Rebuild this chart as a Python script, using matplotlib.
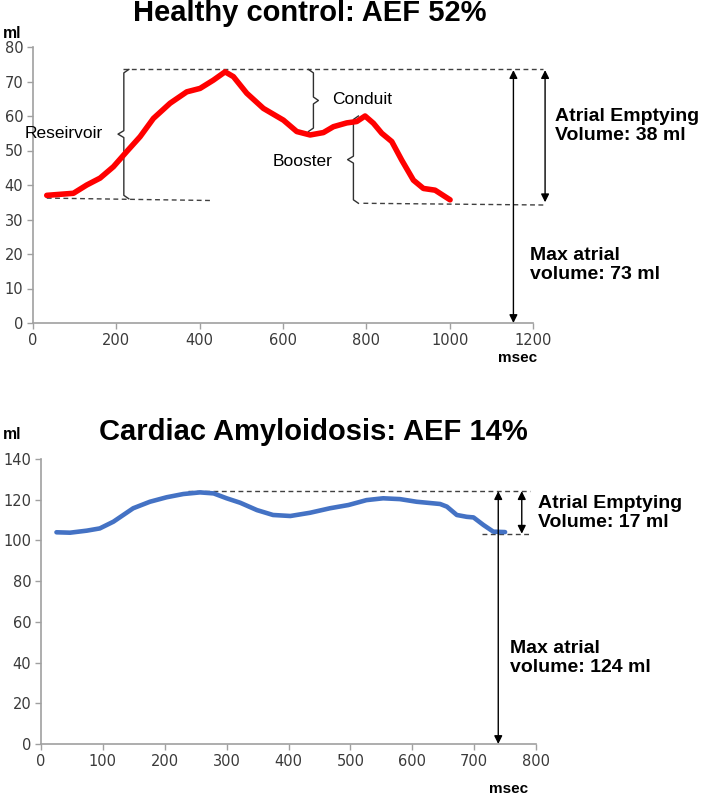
import matplotlib
matplotlib.use("Agg")
import matplotlib.pyplot as plt
import numpy as np

# ---------------- data ----------------
# Healthy control (red)
hc_time = [33, 97, 129, 161, 193, 225, 257, 289, 329, 369, 401, 433, 461, 481, 513,
           553, 601, 633, 665, 697, 721, 753, 777, 797, 817, 837, 861, 885, 913, 937,
           965, 1001]
hc_vol = [37, 37.6, 40, 42, 45.3, 49.7, 54, 59.3, 63.7, 67, 68, 70.4, 72.8, 71.4, 66.6,
          62.2, 58.8, 55.5, 54.5, 55.2, 56.9, 58, 58.4, 60, 57.9, 55, 52.6, 47.2, 41.4, 39,
          38.5, 35.7]
hc_xticks = [0, 200, 400, 600, 800, 1000, 1200]
hc_yticks = [0, 10, 20, 30, 40, 50, 60, 70, 80]

# Cardiac amyloidosis (blue)
ca_time = [25, 47, 74, 95, 117, 149, 176, 203, 230, 257, 279, 300, 322, 349, 375, 403,
           435, 467, 497, 526, 553, 580, 607, 645, 656, 672, 688, 699, 715, 731, 750]
ca_vol = [104, 103.8, 104.8, 105.9, 109.2, 115.8, 119, 121.2, 122.8, 123.6, 123.1, 120.7,
          118.5, 114.9, 112.5, 112, 113.6, 115.8, 117.4, 119.8, 120.7, 120.3, 119, 117.9,
          116.6, 112.5, 111.6, 111.3, 107.6, 104.3, 104.1]
ca_xticks = [0, 100, 200, 300, 400, 500, 600, 700, 800]
ca_yticks = [0, 20, 40, 60, 80, 100, 120, 140]

hc_title = "Healthy control: AEF 52%"
ca_title = "Cardiac Amyloidosis: AEF 14%"
hc_aev = "Atrial Emptying\nVolume: 38 ml"
hc_max = "Max atrial\nvolume: 73 ml"
ca_aev = "Atrial Emptying\nVolume: 17 ml"
ca_max = "Max atrial\nvolume: 124 ml"

W, H = 703, 796
fig = plt.figure(figsize=(W / 100, H / 100), dpi=100)
fig.patch.set_facecolor("white")

ANN = ["Liberation Sans", "DejaVu Sans"]
TICK = "DejaVu Sans"
AX = "#a0a0a0"
DASH = "#404040"
BIG = 14
SMALL = 12.5


def px_axes(left, right, top, bottom):
    return fig.add_axes([left / W, 1 - bottom / H, (right - left) / W, (bottom - top) / H])


def style(ax, xt, yt):
    for s in ["top", "right"]:
        ax.spines[s].set_visible(False)
    for s in ["left", "bottom"]:
        ax.spines[s].set_color(AX)
        ax.spines[s].set_linewidth(1.2)
    ax.set_xticks(xt)
    ax.set_yticks(yt)
    ax.set_xlim(xt[0], xt[-1])
    ax.set_ylim(yt[0], yt[-1])
    ax.tick_params(axis="both", direction="out", length=4, width=1, color=AX,
                   labelcolor="#3a3a3a", labelsize=10.5, pad=3)
    for lab in ax.get_xticklabels() + ax.get_yticklabels():
        lab.set_family(TICK)


def dashed(ax, x, y):
    ax.plot(x, y, color=DASH, lw=1, ls=(0, (3.5, 2.5)), clip_on=False)


def darrow(ax, x, y0, y1):
    ax.annotate("", xy=(x, y0), xytext=(x, y1),
                arrowprops=dict(arrowstyle="<|-|>", color="black", lw=1,
                                mutation_scale=12, shrinkA=0, shrinkB=0),
                annotation_clip=False)


def brace(ax, x0, y_lo, y_hi, hook, mid_len, r):
    # hook >0 : ends curl to the right and middle tick points left ('{')
    ym = (y_lo + y_hi) / 2
    xs = [x0 + hook, x0, x0, x0 - mid_len, x0, x0, x0 + hook]
    ys = [y_hi, y_hi - r, ym + r, ym, ym - r, y_lo + r, y_lo]
    ax.plot(xs, ys, color="#303030", lw=1, clip_on=False, solid_joinstyle="round")


# ---------------- top chart ----------------
ax1 = px_axes(33, 533, 47, 323)
style(ax1, hc_xticks, hc_yticks)
ax1.plot(hc_time, hc_vol, color="#ff0000", lw=4.0, solid_capstyle="round", zorder=3)

dashed(ax1, [216, 1225], [73.5, 73.5])
dashed(ax1, [33, 429], [36.2, 35.5])
dashed(ax1, [793, 1225], [34.7, 34.2])

brace(ax1, 218, 36.0, 73.5, 12, 14, 1.0)
brace(ax1, 673, 55.5, 73.5, -12, -12, 1.0)
brace(ax1, 769, 34.7, 60.0, 12, 14, 1.0)

ax1.text(168, 54.8, "Reseirvoir", ha="right", va="center", fontsize=SMALL, family=ANN)
ax1.text(717, 64.9, "Conduit", ha="left", va="center", fontsize=SMALL, family=ANN)
ax1.text(720, 46.8, "Booster", ha="right", va="center", fontsize=SMALL, family=ANN)

darrow(ax1, 1153, 0, 73.3)
darrow(ax1, 1229, 35.0, 73.3)

ax1.text(1253, 57.1, hc_aev, ha="left", va="center", fontsize=BIG,
         fontweight="bold", family=ANN, linespacing=1.15, clip_on=False)
ax1.text(1193, 16.8, hc_max, ha="left", va="center", fontsize=BIG,
         fontweight="bold", family=ANN, linespacing=1.15, clip_on=False)

fig.text(310 / W, 1 - 21 / H, hc_title, ha="center", va="baseline", fontsize=21,
         fontweight="bold", family=ANN)
fig.text(3 / W, 1 - 33 / H, "ml", ha="left", va="center", fontsize=11.3,
         fontweight="bold", family=ANN)
fig.text(518 / W, 1 - 358 / H, "msec", ha="center", va="center", fontsize=11,
         fontweight="bold", family=ANN)

# ---------------- bottom chart ----------------
ax2 = px_axes(41, 536, 459, 744)
style(ax2, ca_xticks, ca_yticks)
ax2.plot(ca_time, ca_vol, color="#4472c4", lw=3.3, solid_capstyle="round", zorder=3)

dashed(ax2, [238, 790], [124.4, 124.4])
dashed(ax2, [712, 793], [103.1, 103.1])

darrow(ax2, 739, 0, 124.2)
darrow(ax2, 777, 103.3, 124.2)

ax2.text(803, 113.5, ca_aev, ha="left", va="center", fontsize=BIG,
         fontweight="bold", family=ANN, linespacing=1.15, clip_on=False)
ax2.text(758, 42.2, ca_max, ha="left", va="center", fontsize=BIG,
         fontweight="bold", family=ANN, linespacing=1.15, clip_on=False)

fig.text(313 / W, 1 - 440 / H, ca_title, ha="center", va="baseline", fontsize=21,
         fontweight="bold", family=ANN)
fig.text(3 / W, 1 - 435 / H, "ml", ha="left", va="center", fontsize=11.3,
         fontweight="bold", family=ANN)
fig.text(509 / W, 1 - 789 / H, "msec", ha="center", va="center", fontsize=11,
         fontweight="bold", family=ANN)

fig.savefig("out.png", dpi=100, facecolor="white")
